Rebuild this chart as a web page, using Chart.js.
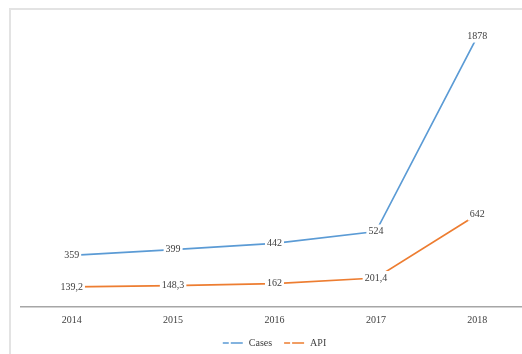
<!DOCTYPE html>
<html>
<head>
<meta charset="utf-8">
<script src="https://cdn.jsdelivr.net/npm/chart.js@4.4.1/dist/chart.umd.min.js"></script>
<style>
  html, body { margin: 0; padding: 0; background: #fff; overflow: hidden; width: 522px; height: 354px; }
  #frame { position: absolute; left: 9px; top: 8px; width: 600px; height: 400px; border-left: 2px solid #e3e3e3; border-top: 2px solid #e3e3e3; }
  #wrap { position: absolute; left: 0; top: 0; width: 540px; height: 358px; }
</style>
</head>
<body>
<div id="frame"></div>
<div id="wrap"><canvas id="c" width="540" height="358"></canvas></div>
<script>
const categories = ['2014', '2015', '2016', '2017', '2018'];
const casesValues = [359, 399, 442, 524, 1878];
const apiValues = [139.2, 148.3, 162, 201.4, 642];
const casesLabels = ['359', '399', '442', '524', '1878'];
const apiLabels = ['139,2', '148,3', '162', '201,4', '642'];
const seriesNames = ['Cases', 'API'];

const FONT = '"Liberation Serif", "Times New Roman", serif';
const TEXT = '#404040';

const valueLabels = {
  id: 'valueLabels',
  afterDatasetsDraw(chart) {
    const ctx = chart.ctx;
    ctx.save();
    ctx.font = '10px ' + FONT;
    ctx.textAlign = 'center';
    ctx.textBaseline = 'middle';
    chart.data.datasets.forEach((ds, di) => {
      const meta = chart.getDatasetMeta(di);
      meta.data.forEach((pt, i) => {
        const txt = ds.valueText[i];
        const w = ctx.measureText(txt).width;
        ctx.fillStyle = '#ffffff';
        ctx.fillRect(pt.x - w / 2 - 2, pt.y - 7, w + 4, 13);
        ctx.fillStyle = TEXT;
        ctx.fillText(txt, pt.x, pt.y);
      });
    });
    ctx.restore();
  }
};

new Chart(document.getElementById('c'), {
  type: 'line',
  data: {
    labels: categories,
    datasets: [
      { label: seriesNames[0], data: casesValues, valueText: casesLabels, borderColor: '#5b9bd5', backgroundColor: '#5b9bd5', borderWidth: 1.7, pointRadius: 0, tension: 0 },
      { label: seriesNames[1], data: apiValues, valueText: apiLabels, borderColor: '#ed7d31', backgroundColor: '#ed7d31', borderWidth: 1.7, pointRadius: 0, tension: 0 }
    ]
  },
  options: {
    responsive: false,
    animation: false,
    layout: { padding: { left: 21, right: 12, top: 19, bottom: 0 } },
    scales: {
      x: {
        offset: true,
        grid: { display: true, drawOnChartArea: false, drawTicks: false, tickLength: 0 },
        border: { display: true, color: '#a6a6a6', width: 1.5 },
        ticks: { color: TEXT, font: { family: FONT, size: 10 }, padding: 7 },
        afterFit(scale) { scale.height = 19; }
      },
      y: { display: false, min: 0, max: 2000 }
    },
    plugins: {
      tooltip: { enabled: false },
      legend: {
        position: 'bottom',
        labels: {
          color: TEXT,
          font: { family: FONT, size: 10 },
          boxWidth: 21,
          boxHeight: 0,
          padding: 12,
          generateLabels(chart) {
            return chart.data.datasets.map((ds, i) => ({
              text: ds.label,
              fillStyle: 'rgba(0,0,0,0)',
              strokeStyle: ds.borderColor,
              lineWidth: 1.5,
              lineDash: [6, 8],
              fontColor: TEXT,
              datasetIndex: i,
              hidden: false
            }));
          }
        }
      }
    }
  },
  plugins: [valueLabels]
});
</script>
</body>
</html>
